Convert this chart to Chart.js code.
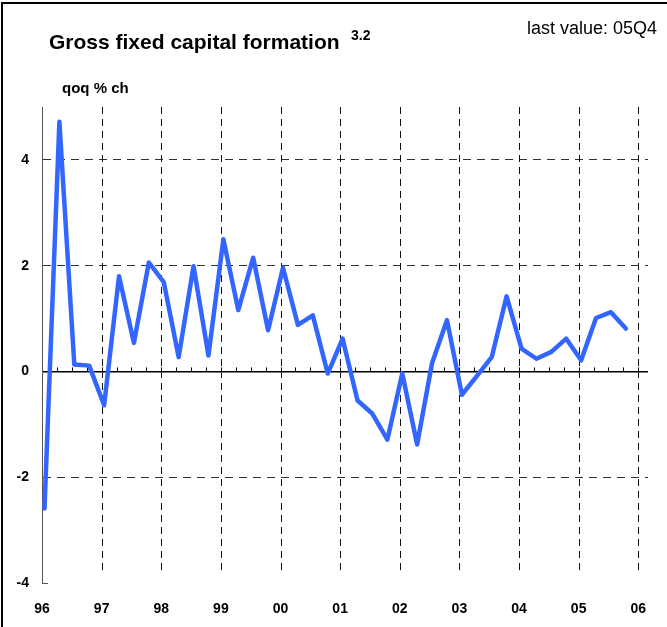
<!DOCTYPE html>
<html>
<head>
<meta charset="utf-8">
<script src="https://cdn.jsdelivr.net/npm/chart.js@4"></script>
<style>
  body { margin: 0; background: #fff; }
  #wrap { position: absolute; left: 0; top: 0; width: 667px; height: 627px; font-family: "Liberation Sans", Arial, sans-serif; }
  #frame { position: absolute; left: 1px; top: 2px; width: 680px; height: 640px; border-left: 2px solid #000; border-top: 2px solid #000; }
  .txt { position: absolute; line-height: 1; white-space: nowrap; color: #000; }
  #titulo { left: 49px; top: 31px; font-size: 21px; font-weight: bold; }
  #sup { left: 351px; top: 28px; font-size: 14px; font-weight: bold; }
  #ultimo { left: 527px; top: 19px; font-size: 18px; }
  #unidade { left: 62px; top: 80px; font-size: 15px; font-weight: bold; }
  #box { position: absolute; left: 0; top: 0; width: 667px; height: 627px; }
</style>
</head>
<body>
<div id="wrap">
  <div id="frame"></div>
  <div id="box"><canvas id="grafico"></canvas></div>
  <div class="txt" id="titulo">Gross fixed capital formation</div>
  <div class="txt" id="sup">3.2</div>
  <div class="txt" id="ultimo">last value: 05Q4</div>
  <div class="txt" id="unidade">qoq % ch</div>
</div>
<script>
// dados (variação trimestral, 96Q1 a 05Q4)
const anos = ["96", "97", "98", "99", "00", "01", "02", "03", "04", "05", "06"];
const valores = [
  -2.59, 4.72, 0.13, 0.11,
  -0.64, 1.80, 0.54, 2.06,
  1.69, 0.27, 1.99, 0.30,
  2.50, 1.16, 2.15, 0.78,
  1.96, 0.88, 1.06, -0.04,
  0.62, -0.55, -0.80, -1.29,
  -0.04, -1.38, 0.16, 0.97,
  -0.44, -0.09, 0.27, 1.42,
  0.43, 0.24, 0.37, 0.62,
  0.21, 1.01, 1.12, 0.81
];
const ticksY = [-4, -2, 0, 2, 4];

const anoInicial = 1996;
// cada trimestre marcado no meio do primeiro mês
const pontos = valores.map((v, i) => ({ x: anoInicial + i / 4 + 1 / 24, y: v }));

const fonteEixo = { family: "'Liberation Sans', Arial, sans-serif", size: 14, weight: "bold" };

// linhas verticais tracejadas, marcas trimestrais no zero e a marca em -4
const extras = {
  id: "extras",
  beforeDatasetsDraw(chart) {
    const { ctx, chartArea, scales } = chart;
    const x = scales.x, y = scales.y;
    const y0 = y.getPixelForValue(0);
    const fundo = y.getPixelForValue(-3.85);
    ctx.save();
    ctx.strokeStyle = "#111";
    ctx.lineWidth = 1;
    ctx.setLineDash([7, 5]);
    for (let a = 1; a < anos.length; a++) {
      const px = Math.round(x.getPixelForValue(anoInicial + a)) + 0.5;
      ctx.beginPath();
      ctx.moveTo(px, chartArea.top);
      ctx.lineTo(px, fundo);
      ctx.stroke();
    }
    ctx.setLineDash([]);
    ctx.strokeStyle = "#000";
    for (let q = 1; q <= (anos.length - 1) * 4; q++) {
      const px = Math.round(x.getPixelForValue(anoInicial + q / 4)) + 0.5;
      ctx.beginPath();
      ctx.moveTo(px, y0);
      ctx.lineTo(px, y0 - 4);
      ctx.stroke();
    }
    const yMin = Math.round(y.getPixelForValue(-4)) + 0.5;
    ctx.strokeStyle = "#555";
    ctx.beginPath();
    ctx.moveTo(chartArea.left, yMin);
    ctx.lineTo(chartArea.left + 6, yMin);
    ctx.stroke();
    ctx.restore();
  }
};

new Chart(document.getElementById("grafico"), {
  type: "line",
  data: {
    datasets: [{
      data: pontos,
      borderColor: "#3366ff",
      borderWidth: 4.5,
      pointRadius: 0,
      tension: 0,
      borderJoinStyle: "round",
      borderCapStyle: "round",
      fill: false,
    }],
  },
  options: {
    responsive: true,
    maintainAspectRatio: false,
    animation: false,
    devicePixelRatio: 1,
    layout: { padding: { left: 0, top: 107, right: 19, bottom: 0 } },
    plugins: { legend: { display: false }, tooltip: { enabled: false } },
    scales: {
      x: {
        type: "linear",
        min: anoInicial,
        max: anoInicial + anos.length - 1 + 0.163,
        afterBuildTicks: (s) => { s.ticks = anos.map((_, i) => ({ value: anoInicial + i })); },
        afterFit: (s) => { s.height = 44; },
        grid: { display: false },
        border: { display: false },
        ticks: {
          padding: 10,
          color: "#000",
          font: fonteEixo,
          autoSkip: false,
          maxRotation: 0,
          callback: (v) => anos[Math.round(v - anoInicial)],
        },
      },
      y: {
        min: -4,
        max: 5,
        afterBuildTicks: (s) => { s.ticks = ticksY.map((v) => ({ value: v })); },
        afterFit: (s) => { s.width = 42; },
        grid: {
          drawTicks: false,
          color: (c) => c.tick.value === 0 ? "#000" : c.tick.value === -4 ? "rgba(0,0,0,0)" : "#333",
          lineWidth: (c) => c.tick.value === 0 ? 1.5 : 1,
        },
        border: {
          display: true,
          color: "#555",
          width: 1,
          dash: (c) => c.tick && c.tick.value === 0 ? [] : [8, 6],
        },
        ticks: {
          padding: 13,
          color: "#000",
          font: fonteEixo,
          callback: (v) => String(v),
        },
      },
    },
  },
  plugins: [extras],
});
</script>
</body>
</html>
